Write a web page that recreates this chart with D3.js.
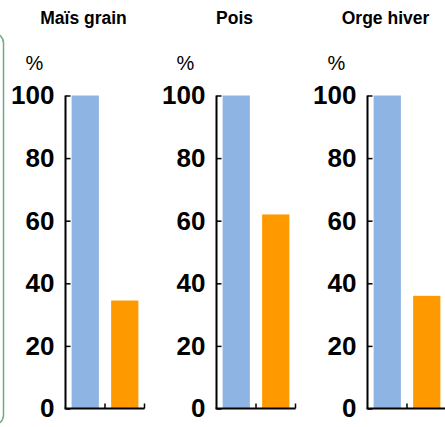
<!DOCTYPE html>
<html>
<head>
<meta charset="utf-8">
<script src="https://cdn.jsdelivr.net/npm/d3@7"></script>
<style>
  html, body { margin: 0; padding: 0; background: #fff; }
  svg { display: block; }
  text { font-family: Arial, "Liberation Sans", sans-serif; }
</style>
</head>
<body>
<svg id="chart" width="445" height="427"></svg>
<script>
// Data
const crops = ["Maïs grain", "Pois", "Orge hiver"];
const seriesNames = ["Série 1", "Série 2"];
const series1 = [100, 100, 100];
const series2 = [34.5, 62, 36];
const yTicks = [0, 20, 40, 60, 80, 100];
const unitLabel = "%";
const colors = ["#8DB4E2", "#FF9900"];

const svg = d3.select("#chart");

// green rounded frame on the left edge
svg.append("rect")
  .attr("x", -200).attr("y", 33)
  .attr("width", 203.5).attr("height", 392)
  .attr("rx", 10).attr("ry", 10)
  .attr("fill", "none")
  .attr("stroke", "#72aa84")
  .attr("stroke-width", 1.5);

const panelX = d3.scaleBand().domain(crops).range([65.5, 65.5 + 151 * 3]).paddingInner(0).paddingOuter(0);
const y = d3.scaleLinear().domain([0, 100]).range([408.5, 95.5]);
const panelW = 79;

crops.forEach((crop, i) => {
  const x0 = panelX(crop);
  const g = svg.append("g").attr("transform", `translate(${x0},0)`);
  const x = d3.scaleBand().domain(seriesNames).range([0, panelW]).paddingInner(0.31).paddingOuter(0.155);
  const vals = [series1[i], series2[i]];

  // title
  g.append("text")
    .attr("x", 18).attr("y", 23.5)
    .attr("text-anchor", "middle")
    .attr("font-weight", "bold")
    .attr("font-size", 17.5)
    .text(crop);

  // unit label
  g.append("text")
    .attr("x", -31).attr("y", 70)
    .attr("text-anchor", "middle")
    .attr("font-size", 20)
    .text(unitLabel);

  // bars
  g.selectAll("rect.bar").data(seriesNames).enter().append("rect")
    .attr("class", "bar")
    .attr("x", d => x(d))
    .attr("width", x.bandwidth())
    .attr("y", (d, j) => y(vals[j]))
    .attr("height", (d, j) => y(0) - y(vals[j]))
    .attr("fill", (d, j) => colors[j]);

  // y axis
  const yAxis = d3.axisLeft(y).tickValues(yTicks).tickSize(-5).tickPadding(11);
  const ya = g.append("g").call(yAxis);
  ya.select(".domain").attr("stroke", "#000").attr("stroke-width", 2).attr("d", `M0,${y(100)}V${y(0)}`);
  ya.selectAll(".tick line").attr("stroke", "#000").attr("stroke-width", 1.5);
  ya.selectAll(".tick text")
    .attr("font-size", 26).attr("font-weight", "bold")
    .attr("fill", "#000")
    .attr("font-family", "Arial, 'Liberation Sans', sans-serif");

  // x axis
  const step = x.step();
  const xa = g.append("g");
  xa.append("path")
    .attr("d", `M-1,${y(0)}H${panelW}`)
    .attr("stroke", "#000").attr("stroke-width", 2).attr("fill", "none");
  [step, 2 * step].forEach(t => {
    xa.append("line")
      .attr("x1", t).attr("x2", t)
      .attr("y1", y(0)).attr("y2", y(0) - 5)
      .attr("stroke", "#000").attr("stroke-width", 1.5);
  });
});
</script>
</body>
</html>
